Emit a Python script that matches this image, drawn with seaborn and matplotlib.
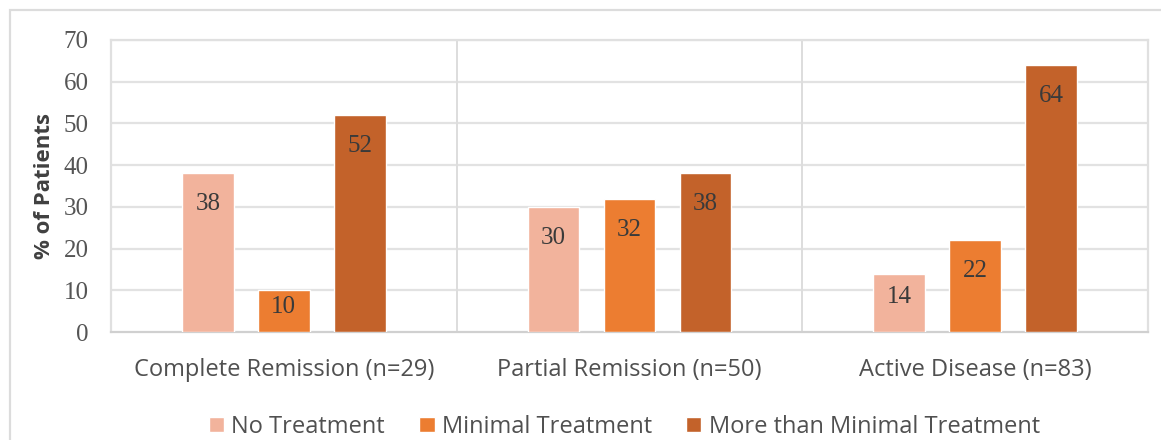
import matplotlib
matplotlib.use("Agg")
import matplotlib.pyplot as plt
import matplotlib.patches as mpatches
import seaborn as sns
import pandas as pd

# Disease status groups and treatment shares (% of patients)
categories = ["Complete Remission (n=29)", "Partial Remission (n=50)", "Active Disease (n=83)"]
treatments = ["No Treatment", "Minimal Treatment", "More than Minimal Treatment"]
no_treatment = [38, 30, 14]
minimal_treatment = [10, 32, 22]
more_than_minimal = [52, 38, 64]
y_ticks = [0, 10, 20, 30, 40, 50, 60, 70]

colors = ["#F2B39C", "#EC7D31", "#C3622A"]

rows = []
for series_name, values in zip(treatments, [no_treatment, minimal_treatment, more_than_minimal]):
    for cat, v in zip(categories, values):
        rows.append({"Status": cat, "Treatment": series_name, "Percent": v})
df = pd.DataFrame(rows)

sns.set_theme(style="white")
plt.rcParams["font.family"] = ["Open Sans", "DejaVu Sans"]

fig = plt.figure(figsize=(11.61, 4.40), dpi=100)
ax = fig.add_axes([111 / 1161, 108 / 440, (1148 - 111) / 1161, (332 - 40) / 440])

# Outer chart frame
fig.patches.append(mpatches.Rectangle((10 / 1161, -0.05), 1.2, (430 + 22) / 440 - 0.0,
                                      transform=fig.transFigure, fill=False,
                                      edgecolor="#DCDCDC", linewidth=1.6, zorder=0))

sns.barplot(data=df, x="Status", y="Percent", hue="Treatment", order=categories,
            hue_order=treatments, palette=colors, width=0.66, gap=0.318,
            saturation=1, errorbar=None, ax=ax, zorder=3, legend=True)

ax.set_ylim(0, 70)
ax.set_xlim(-0.5, 2.5)
ax.set_yticks(y_ticks)
ax.set_yticklabels([str(t) for t in y_ticks], family="Liberation Serif",
                   fontsize=18, color="#555555")
ax.tick_params(axis="y", length=0, pad=16)
ax.tick_params(axis="x", length=0, pad=19, labelsize=17, labelcolor="#505050")
ax.set_xlabel("")
ax.set_ylabel("% of Patients", fontsize=16, fontweight="bold", color="#404040", labelpad=6)

# Gridlines and category separators
for t in y_ticks[1:]:
    ax.axhline(t, color="#E2E2E2", linewidth=1.6, zorder=1)
for b in [0.5, 1.5]:
    ax.axvline(b, color="#DDDDDD", linewidth=1.4, zorder=1)
for side in ["left", "top", "right"]:
    ax.spines[side].set_color("#E0E0E0")
    ax.spines[side].set_linewidth(1.6)
ax.spines["bottom"].set_color("#D0D0D0")
ax.spines["bottom"].set_linewidth(1.6)

# Value labels inside the top of each bar
px_per_unit = (332 - 40) / 70
for container in ax.containers:
    for bar in container:
        h = bar.get_height()
        offset_px = min(31, 0.4 * h * px_per_unit)
        ax.annotate(f"{h:.0f}", (bar.get_x() + bar.get_width() / 2, h),
                    xytext=(0, -offset_px * 0.72), textcoords="offset points",
                    ha="center", va="center", family="Liberation Serif",
                    fontsize=18, color="#3A3A3A", zorder=5)

handles, labels = ax.get_legend_handles_labels()
ax.legend(handles, labels, loc="center", bbox_to_anchor=(0.495, -0.325), ncol=3,
          frameon=False, fontsize=17, handlelength=0.65, handleheight=0.65,
          handletextpad=0.3, columnspacing=1.45, labelcolor="#505050")

fig.savefig("out.png", dpi=100, facecolor="white")
